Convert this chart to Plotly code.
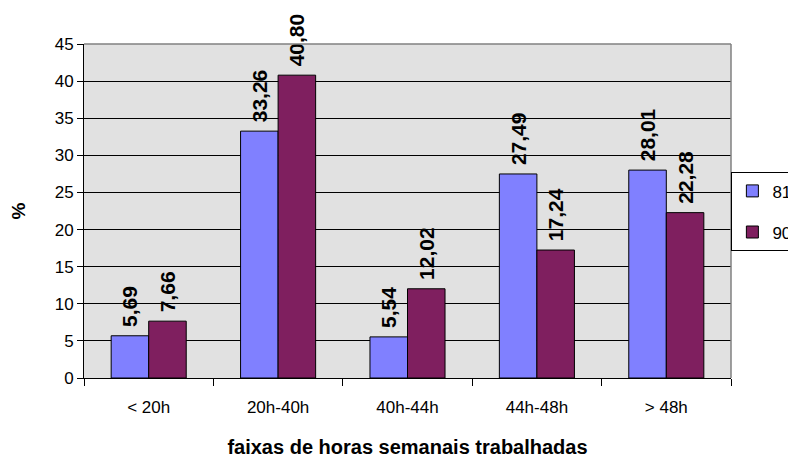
import plotly.graph_objects as go

categories = ["< 20h", "20h-40h", "40h-44h", "44h-48h", "> 48h"]
series_81 = [5.69, 33.26, 5.54, 27.49, 28.01]
series_90 = [7.66, 40.80, 12.02, 17.24, 22.28]
series_names = ["81", "90"]
y_ticks = [0, 5, 10, 15, 20, 25, 30, 35, 40, 45]

FONT = "Arial, Liberation Sans, sans-serif"

fig = go.Figure()
for name, vals, color, grp in [
    (series_names[0], series_81, "#8080FF", "a"),
    (series_names[1], series_90, "#7F1F5F", "b"),
]:
    fig.add_trace(go.Bar(
        x=categories, y=vals, name=name, legendgroup=grp,
        marker=dict(color=color, line=dict(color="black", width=1)),
        texttemplate="\u00a0%{y:.2f}", textposition="outside", textangle=-90,
        textfont=dict(family=FONT, size=21, color="black", weight="bold"),
        constraintext="none", cliponaxis=False,
    ))

# page has an 8px body margin: figure is 788x450 so it fills the 796x458 window
fig.update_layout(
    width=788, height=450,
    margin=dict(l=76, r=65, t=36, b=80, autoexpand=False),
    paper_bgcolor="white", plot_bgcolor="#E1E1E1",
    separators=",.",
    barmode="group", bargap=0.42, bargroupgap=0,
    font=dict(family=FONT, size=17, color="black"),
    legend=dict(
        xref="container", yref="container",
        x=0.918, xanchor="left", y=0.547, yanchor="middle",
        bgcolor="white", bordercolor="black", borderwidth=1,
        font=dict(size=17), tracegroupgap=16, traceorder="grouped",
        itemwidth=30,
    ),
    showlegend=True,
)
fig.update_yaxes(
    range=[0, 45], tickvals=y_ticks, showgrid=True, gridcolor="black", gridwidth=1,
    showline=True, linecolor="black", linewidth=1, ticks="outside", ticklen=6,
    tickcolor="black", zeroline=False, automargin=False,
    tickfont=dict(size=17),
    title=dict(text="%", font=dict(size=19, weight="bold"), standoff=24),
)
fig.update_xaxes(
    showline=True, linecolor="black", linewidth=1, ticks="outside", ticklen=7,
    tickcolor="black", tickson="boundaries", automargin=False,
    tickfont=dict(size=17), ticklabelstandoff=14,
    title=dict(text="faixas de horas semanais trabalhadas", font=dict(size=20, weight="bold"), standoff=25),
)
fig.add_shape(type="line", xref="paper", yref="paper", x0=0, x1=1, y0=1, y1=1,
              line=dict(color="#808080", width=1.5))
fig.add_shape(type="line", xref="paper", yref="paper", x0=1, x1=1, y0=0, y1=1,
              line=dict(color="#808080", width=1.5))

fig.write_html("out.html")
